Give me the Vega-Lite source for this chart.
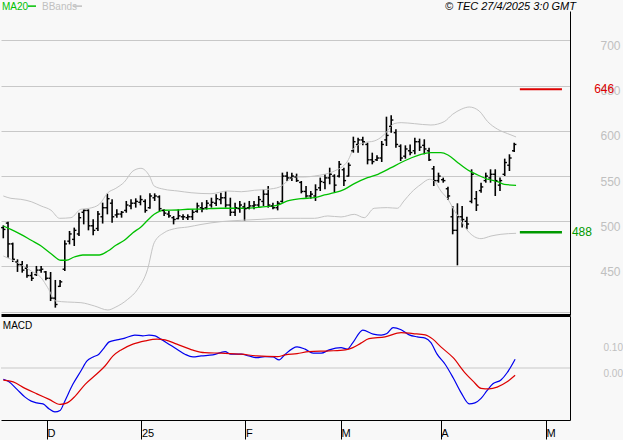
{
  "$schema": "https://vega.github.io/schema/vega-lite/v6.json",
  "background": "#f8f8f8",
  "padding": 0,
  "spacing": 1,
  "bounds": "flush",
  "config": {"view": {"stroke": null}, "font": "Liberation Sans"},
  "datasets": {
    "one": [{}],
    "bars": [
      {"i":0,"o":493,"h":495.5,"l":481.2,"c":491},{"i":1,"o":498,"h":499.6,"l":459.8,"c":475},{"i":2,"o":475,"h":476.4,"l":455,"c":458},{"i":3,"o":455,"h":457.9,"l":444,"c":452},{"i":4,"o":452,"h":456.1,"l":443.2,"c":446},{"i":5,"o":448,"h":452.4,"l":437.6,"c":440},{"i":6,"o":440,"h":443.9,"l":434,"c":437},{"i":7,"o":441,"h":450.6,"l":439.5,"c":446},{"i":8,"o":446,"h":450.6,"l":443.2,"c":447},{"i":9,"o":444,"h":445,"l":434.7,"c":437},
      {"i":10,"o":437,"h":443.9,"l":411.8,"c":415},{"i":11,"o":415,"h":435.1,"l":404.5,"c":408},{"i":12,"o":428,"h":435.1,"l":427.3,"c":433},{"i":13,"o":447,"h":479,"l":445,"c":475},{"i":14,"o":478,"h":489.3,"l":474.5,"c":486},{"i":15,"o":480,"h":493,"l":472.7,"c":490},{"i":16,"o":486,"h":509.5,"l":483.7,"c":504},{"i":17,"o":510,"h":513.2,"l":496.6,"c":512},{"i":18,"o":512,"h":513.2,"l":490,"c":495},{"i":19,"o":495,"h":502.2,"l":484.5,"c":490},
      {"i":20,"o":492,"h":511.4,"l":489.3,"c":508},{"i":21,"o":505,"h":520.6,"l":497.5,"c":515},{"i":22,"o":515,"h":530.6,"l":507.7,"c":525},{"i":23,"o":520,"h":524.3,"l":498.5,"c":505},{"i":24,"o":507,"h":513.2,"l":504,"c":508},{"i":25,"o":508,"h":511.4,"l":504,"c":510},{"i":26,"o":512,"h":522.5,"l":509.5,"c":518},{"i":27,"o":517,"h":524.3,"l":513.2,"c":520},{"i":28,"o":520,"h":525.4,"l":515.1,"c":522},{"i":29,"o":521,"h":528.7,"l":517.7,"c":524},
      {"i":30,"o":522,"h":524.3,"l":509.5,"c":512},{"i":31,"o":515,"h":530.9,"l":514,"c":528},{"i":32,"o":526,"h":530.9,"l":522.5,"c":528},{"i":33,"o":527,"h":528.7,"l":511.4,"c":514},{"i":34,"o":512,"h":513.2,"l":505.9,"c":509},{"i":35,"o":508,"h":511.4,"l":504,"c":506},{"i":36,"o":504,"h":505.9,"l":496.6,"c":502},{"i":37,"o":503,"h":513.2,"l":502.2,"c":506},{"i":38,"o":505,"h":507.7,"l":501.4,"c":505},{"i":39,"o":504,"h":507.7,"l":501.4,"c":505},
      {"i":40,"o":505,"h":513.2,"l":501.4,"c":510},{"i":41,"o":511,"h":520.6,"l":509.5,"c":517},{"i":42,"o":515,"h":521,"l":510,"c":514},{"i":43,"o":515,"h":523.5,"l":513,"c":520},{"i":44,"o":518,"h":526.1,"l":515.1,"c":521},{"i":45,"o":520,"h":529.8,"l":516.9,"c":525},{"i":46,"o":524,"h":531.7,"l":518.8,"c":526},{"i":47,"o":526,"h":533.5,"l":515.1,"c":518},{"i":48,"o":518,"h":526.1,"l":505.9,"c":510},{"i":49,"o":510,"h":520.6,"l":505.9,"c":515},
      {"i":50,"o":514,"h":522.5,"l":509.5,"c":518},{"i":51,"o":516,"h":520.6,"l":500.3,"c":514},{"i":52,"o":515,"h":522.5,"l":513.2,"c":517},{"i":53,"o":517,"h":522.5,"l":513.2,"c":518},{"i":54,"o":518,"h":528,"l":515.1,"c":524},{"i":55,"o":522,"h":535.4,"l":516.9,"c":530},{"i":56,"o":530,"h":539,"l":515.1,"c":518},{"i":57,"o":517,"h":520.6,"l":513.2,"c":515},{"i":58,"o":515,"h":522.5,"l":512.1,"c":520},{"i":59,"o":522,"h":553.8,"l":520.6,"c":550},
      {"i":60,"o":550,"h":554.9,"l":544.6,"c":548},{"i":61,"o":548,"h":553.8,"l":544.6,"c":550},{"i":62,"o":549,"h":552.7,"l":543.5,"c":545},{"i":63,"o":543,"h":544.6,"l":530.9,"c":533},{"i":64,"o":533,"h":539,"l":526.1,"c":528},{"i":65,"o":528,"h":533.5,"l":525,"c":530},{"i":66,"o":528,"h":540.9,"l":522.5,"c":535},{"i":67,"o":537,"h":548.3,"l":533.5,"c":544},{"i":68,"o":543,"h":552,"l":535.4,"c":548},{"i":69,"o":548,"h":559.3,"l":540.9,"c":552},
      {"i":70,"o":550,"h":552,"l":532.4,"c":540},{"i":71,"o":550,"h":566.7,"l":548.3,"c":563},{"i":72,"o":557,"h":559.3,"l":539,"c":545},{"i":73,"o":550,"h":564.9,"l":549.4,"c":562},{"i":74,"o":578,"h":593.6,"l":575.9,"c":588},{"i":75,"o":585,"h":592.5,"l":575.9,"c":590},{"i":76,"o":590,"h":593.6,"l":584,"c":588},{"i":77,"o":585,"h":587,"l":563,"c":568},{"i":78,"o":568,"h":575.9,"l":563,"c":566},{"i":79,"o":568,"h":573,"l":566.7,"c":570},
      {"i":80,"o":570,"h":588.8,"l":565.6,"c":585},{"i":81,"o":590,"h":615.7,"l":583.3,"c":595},{"i":82,"o":605,"h":617.2,"l":598,"c":612},{"i":83,"o":598,"h":601.7,"l":581.4,"c":585},{"i":84,"o":583,"h":585.1,"l":566.7,"c":570},{"i":85,"o":572,"h":584,"l":569.3,"c":580},{"i":86,"o":578,"h":585,"l":573,"c":576},{"i":87,"o":578,"h":592.5,"l":574.1,"c":588},{"i":88,"o":588,"h":591.4,"l":577.8,"c":582},{"i":89,"o":584,"h":590.7,"l":574.1,"c":580},
      {"i":90,"o":578,"h":581.4,"l":566.7,"c":568},{"i":91,"o":558,"h":561.2,"l":539,"c":545},{"i":92,"o":545,"h":553.8,"l":542.7,"c":550},{"i":93,"o":546,"h":548.3,"l":542.7,"c":545},{"i":94,"o":536,"h":538.3,"l":523.6,"c":528},{"i":95,"o":505,"h":516.9,"l":485.6,"c":490},{"i":96,"o":490,"h":519.9,"l":451.3,"c":505},{"i":97,"o":505,"h":516.9,"l":493,"c":502},{"i":98,"o":500,"h":505.1,"l":491.1,"c":497},{"i":99,"o":522,"h":557.5,"l":519.9,"c":552},
      {"i":100,"o":525,"h":533.5,"l":511.4,"c":518},{"i":101,"o":534,"h":542.7,"l":531.7,"c":538},{"i":102,"o":545,"h":553.8,"l":542.7,"c":550},{"i":103,"o":548,"h":557.5,"l":542.7,"c":552},{"i":104,"o":552,"h":557.5,"l":528,"c":545},{"i":105,"o":540,"h":548.3,"l":533.5,"c":545},{"i":106,"o":552,"h":569.3,"l":550.1,"c":565},{"i":107,"o":562,"h":574.1,"l":555.6,"c":570},{"i":108,"o":578,"h":587,"l":576.7,"c":585}
    ],
    "ma": [
      {"i":0,"v":494.8},{"i":1.6,"v":491.1},{"i":3.7,"v":485.6},{"i":5.9,"v":479},{"i":8,"v":472.7},{"i":10.1,"v":464.2},{"i":12.2,"v":456.9},{"i":13.3,"v":456.9},{"i":15,"v":460.5},{"i":16.8,"v":462.7},{"i":20.3,"v":462.7},{"i":22.1,"v":467.1},{"i":23.8,"v":473.5},{"i":25.6,"v":479},{"i":27.4,"v":487.4},{"i":29.1,"v":493.7},{"i":30.5,"v":501.1},{"i":31.9,"v":507.7},{"i":34,"v":512.2},{"i":36.9,"v":512.5},{"i":39,"v":513.3},{"i":41.8,"v":513.5},{"i":46,"v":514.4},{"i":51,"v":514.4},{"i":54.5,"v":515.8},{"i":58,"v":518},{"i":60.1,"v":522.5},{"i":62.9,"v":525},{"i":65.8,"v":526.1},{"i":67.9,"v":529.1},{"i":70,"v":531.6},{"i":72.1,"v":535.4},{"i":74.2,"v":541.6},{"i":77,"v":548.2},{"i":79.2,"v":552},{"i":82,"v":559.3},{"i":84.1,"v":565},{"i":86.2,"v":570},{"i":88.3,"v":574.1},{"i":90.4,"v":575.9},{"i":92.5,"v":575.9},{"i":94,"v":573.3},{"i":96.1,"v":564.8},{"i":98.2,"v":556.7},{"i":100.3,"v":551.2},{"i":102.4,"v":546.5},{"i":104.5,"v":543.8},{"i":105.9,"v":540.9},{"i":108.4,"v":539.8}
    ],
    "bb": [
      {"b":"u","i":0,"v":528},{"b":"u","i":1.6,"v":525.4},{"b":"u","i":3.7,"v":524.3},{"b":"u","i":5.9,"v":521.7},{"b":"u","i":8,"v":516.9},{"b":"u","i":10.1,"v":512.2},{"b":"u","i":11.9,"v":503.3},{"b":"u","i":14.3,"v":504},{"b":"u","i":16.4,"v":513.3},{"b":"u","i":18.2,"v":514.4},{"b":"u","i":20.3,"v":518.8},{"b":"u","i":22.1,"v":531.6},{"b":"u","i":23.8,"v":536.5},{"b":"u","i":25.6,"v":543.5},{"b":"u","i":27.4,"v":555.6},{"b":"u","i":29.1,"v":558.6},{"b":"u","i":30.9,"v":550.1},{"b":"u","i":31.9,"v":539},{"b":"u","i":34,"v":535.4},{"b":"u","i":36.9,"v":533.5},{"b":"u","i":39.7,"v":531.6},{"b":"u","i":43.9,"v":530.5},{"b":"u","i":47.4,"v":533.5},{"b":"u","i":50.3,"v":532.7},{"b":"u","i":53.1,"v":534.3},{"b":"u","i":55.9,"v":535.4},{"b":"u","i":58.4,"v":537.9},{"b":"u","i":60.1,"v":544.6},{"b":"u","i":61.5,"v":549},{"b":"u","i":63.7,"v":549},{"b":"u","i":65.8,"v":550.1},{"b":"u","i":67.9,"v":552},{"b":"u","i":70,"v":555.6},{"b":"u","i":72.8,"v":566.7},{"b":"u","i":74.2,"v":581.4},{"b":"u","i":76.3,"v":587},{"b":"u","i":78.4,"v":588.8},{"b":"u","i":80.2,"v":594.4},{"b":"u","i":81.2,"v":599.9},{"b":"u","i":82.6,"v":608},{"b":"u","i":84.1,"v":609.1},{"b":"u","i":86.9,"v":608},{"b":"u","i":90.4,"v":606.5},{"b":"u","i":93.2,"v":610.2},{"b":"u","i":95,"v":618.4},{"b":"u","i":96.8,"v":623.9},{"b":"u","i":98.5,"v":626.4},{"b":"u","i":100.6,"v":622},{"b":"u","i":102.4,"v":610.2},{"b":"u","i":104.5,"v":601.8},{"b":"u","i":106.6,"v":597},{"b":"u","i":108.4,"v":593.3},
      {"b":"l","i":0,"v":461.6},{"b":"l","i":1.6,"v":458},{"b":"l","i":3.7,"v":452.4},{"b":"l","i":5.9,"v":445},{"b":"l","i":8,"v":437.6},{"b":"l","i":9.4,"v":426.5},{"b":"l","i":11.1,"v":411.8},{"b":"l","i":13.6,"v":410.7},{"b":"l","i":16.4,"v":410},{"b":"l","i":19.3,"v":406.3},{"b":"l","i":22.1,"v":401.9},{"b":"l","i":23.8,"v":405.2},{"b":"l","i":26.3,"v":413.7},{"b":"l","i":28.4,"v":424.8},{"b":"l","i":30.5,"v":446.9},{"b":"l","i":31.9,"v":476.3},{"b":"l","i":34,"v":487.4},{"b":"l","i":36.2,"v":491.8},{"b":"l","i":39,"v":493.7},{"b":"l","i":41.8,"v":496.5},{"b":"l","i":46,"v":499.6},{"b":"l","i":50.3,"v":501.1},{"b":"l","i":54.5,"v":502.2},{"b":"l","i":58.7,"v":503.3},{"b":"l","i":62.9,"v":503.3},{"b":"l","i":65.8,"v":503.3},{"b":"l","i":68.6,"v":505.9},{"b":"l","i":71.4,"v":504.8},{"b":"l","i":74.2,"v":507.7},{"b":"l","i":76.3,"v":504},{"b":"l","i":78.4,"v":514.4},{"b":"l","i":81.2,"v":515.1},{"b":"l","i":83.3,"v":514.4},{"b":"l","i":84.7,"v":522.5},{"b":"l","i":86.2,"v":531.6},{"b":"l","i":88.3,"v":540.9},{"b":"l","i":90.1,"v":546.5},{"b":"l","i":91.1,"v":544.6},{"b":"l","i":92.5,"v":533.5},{"b":"l","i":94,"v":524.3},{"b":"l","i":95.4,"v":511.4},{"b":"l","i":96.8,"v":500.3},{"b":"l","i":98.2,"v":489.3},{"b":"l","i":101,"v":480.8},{"b":"l","i":103.1,"v":483.7},{"b":"l","i":105.2,"v":485.6},{"b":"l","i":108.4,"v":486.7}
    ],
    "levels": [
      {"v":646,"t":"646","k":"r"},{"v":488,"t":"488","k":"s"}
    ],
    "macd": [
      {"s":"m","i":0,"v":-0.045},{"s":"m","i":1.2,"v":-0.055},{"s":"m","i":2.9,"v":-0.085},{"s":"m","i":4.6,"v":-0.116},{"s":"m","i":5.9,"v":-0.132},{"s":"m","i":7.1,"v":-0.139},{"s":"m","i":8.4,"v":-0.143},{"s":"m","i":9.7,"v":-0.163},{"s":"m","i":10.9,"v":-0.175},{"s":"m","i":12,"v":-0.169},{"s":"m","i":13,"v":-0.132},{"s":"m","i":14.7,"v":-0.065},{"s":"m","i":16.4,"v":-0.012},{"s":"m","i":17.7,"v":0.028},{"s":"m","i":19,"v":0.044},{"s":"m","i":20.2,"v":0.055},{"s":"m","i":21.1,"v":0.075},{"s":"m","i":22.4,"v":0.104},{"s":"m","i":24,"v":0.112},{"s":"m","i":25.7,"v":0.119},{"s":"m","i":27.8,"v":0.131},{"s":"m","i":29.5,"v":0.128},{"s":"m","i":30.8,"v":0.131},{"s":"m","i":32.1,"v":0.128},{"s":"m","i":33.3,"v":0.115},{"s":"m","i":35,"v":0.095},{"s":"m","i":36.7,"v":0.075},{"s":"m","i":38.4,"v":0.055},{"s":"m","i":40.1,"v":0.044},{"s":"m","i":41.8,"v":0.048},{"s":"m","i":44.3,"v":0.052},{"s":"m","i":46.9,"v":0.065},{"s":"m","i":48.1,"v":0.055},{"s":"m","i":50.3,"v":0.055},{"s":"m","i":51.9,"v":0.048},{"s":"m","i":53.6,"v":0.041},{"s":"m","i":55.3,"v":0.045},{"s":"m","i":57,"v":0.044},{"s":"m","i":58.3,"v":0.032},{"s":"m","i":59.6,"v":0.055},{"s":"m","i":62.1,"v":0.084},{"s":"m","i":63.8,"v":0.075},{"s":"m","i":65.5,"v":0.059},{"s":"m","i":67.2,"v":0.059},{"s":"m","i":68.9,"v":0.072},{"s":"m","i":71.4,"v":0.081},{"s":"m","i":72.7,"v":0.075},{"s":"m","i":73.9,"v":0.101},{"s":"m","i":76,"v":0.151},{"s":"m","i":78.2,"v":0.135},{"s":"m","i":79.9,"v":0.131},{"s":"m","i":81.1,"v":0.137},{"s":"m","i":82.4,"v":0.161},{"s":"m","i":84.1,"v":0.152},{"s":"m","i":85.8,"v":0.132},{"s":"m","i":87.5,"v":0.124},{"s":"m","i":89.2,"v":0.119},{"s":"m","i":90.4,"v":0.101},{"s":"m","i":91.7,"v":0.055},{"s":"m","i":93.4,"v":0.015},{"s":"m","i":95.1,"v":-0.039},{"s":"m","i":96.8,"v":-0.099},{"s":"m","i":98.5,"v":-0.143},{"s":"m","i":99.7,"v":-0.139},{"s":"m","i":101,"v":-0.121},{"s":"m","i":102.3,"v":-0.089},{"s":"m","i":103.5,"v":-0.063},{"s":"m","i":105.2,"v":-0.048},{"s":"m","i":106.5,"v":-0.019},{"s":"m","i":108.2,"v":0.035},
      {"s":"s","i":0,"v":-0.048},{"s":"s","i":2.1,"v":-0.055},{"s":"s","i":4.6,"v":-0.081},{"s":"s","i":7.1,"v":-0.103},{"s":"s","i":9.7,"v":-0.125},{"s":"s","i":12,"v":-0.145},{"s":"s","i":13.5,"v":-0.139},{"s":"s","i":15.2,"v":-0.112},{"s":"s","i":17.3,"v":-0.065},{"s":"s","i":19.8,"v":-0.023},{"s":"s","i":21.5,"v":0.008},{"s":"s","i":23.2,"v":0.048},{"s":"s","i":24.9,"v":0.072},{"s":"s","i":27.4,"v":0.095},{"s":"s","i":30,"v":0.108},{"s":"s","i":32.5,"v":0.115},{"s":"s","i":34.2,"v":0.112},{"s":"s","i":36.7,"v":0.095},{"s":"s","i":40.1,"v":0.071},{"s":"s","i":42.6,"v":0.061},{"s":"s","i":46,"v":0.059},{"s":"s","i":50.3,"v":0.055},{"s":"s","i":53.6,"v":0.048},{"s":"s","i":57.9,"v":0.045},{"s":"s","i":59.6,"v":0.052},{"s":"s","i":62.1,"v":0.057},{"s":"s","i":64.6,"v":0.065},{"s":"s","i":68.9,"v":0.068},{"s":"s","i":72.3,"v":0.072},{"s":"s","i":73.9,"v":0.081},{"s":"s","i":75.6,"v":0.099},{"s":"s","i":77.3,"v":0.117},{"s":"s","i":80.7,"v":0.124},{"s":"s","i":84.1,"v":0.141},{"s":"s","i":86.6,"v":0.137},{"s":"s","i":89.2,"v":0.132},{"s":"s","i":90.8,"v":0.115},{"s":"s","i":92.5,"v":0.084},{"s":"s","i":95.1,"v":0.041},{"s":"s","i":97.6,"v":-0.019},{"s":"s","i":99.3,"v":-0.052},{"s":"s","i":101,"v":-0.081},{"s":"s","i":102.7,"v":-0.083},{"s":"s","i":104.4,"v":-0.076},{"s":"s","i":106.5,"v":-0.055},{"s":"s","i":108.2,"v":-0.029}
    ]
  },
  "vconcat": [
    {
      "width": 569,
      "height": 304,
      "resolve": {"axis": {"x": "independent", "y": "independent"}},
      "layer": [
        {
          "data": {"name": "bars"},
          "mark": {"type": "rule", "color": "#000000", "strokeWidth": 1.6},
          "encoding": {
            "x": {"field": "i", "type": "quantitative", "scale": {"domain": [-0.486, 119.8], "nice": false, "zero": false},
              "axis": {"orient": "bottom", "title": null, "domain": true, "domainColor": "#000000", "domainWidth": 3, "ticks": false, "labels": false, "grid": false}},
            "y": {"field": "l", "type": "quantitative", "scale": {"domain": [396.35, 732.6], "nice": false, "zero": false},
              "axis": {"orient": "right", "title": null, "values": [400, 450, 500, 550, 600, 650, 700], "labelExpr": "datum.value == 400 ? '' : datum.label", "grid": true, "gridColor": "#c8c8c8", "gridWidth": 1, "ticks": false, "domain": true, "domainColor": "#000000", "domainWidth": 1, "labelColor": "#c0c0c0", "labelFontSize": 12, "labelFont": "Liberation Sans", "labelPadding": 30, "labelAlign": "left", "labelBaseline": "top", "labelDy": -2}},
            "y2": {"field": "h"}
          }
        },
        {
          "data": {"name": "bb"},
          "mark": {"type": "line", "color": "#c4c4c4", "strokeWidth": 1, "interpolate": "monotone"},
          "encoding": {
            "x": {"field": "i", "type": "quantitative", "scale": {"domain": [-0.486, 119.8], "nice": false, "zero": false}, "axis": null},
            "y": {"field": "v", "type": "quantitative", "scale": {"domain": [396.35, 732.6], "nice": false, "zero": false}, "axis": null},
            "detail": {"field": "b", "type": "nominal"}
          }
        },
        {
          "data": {"name": "ma"},
          "mark": {"type": "line", "color": "#00c000", "strokeWidth": 1.3, "interpolate": "monotone"},
          "encoding": {
            "x": {"field": "i", "type": "quantitative", "scale": {"domain": [-0.486, 119.8], "nice": false, "zero": false}, "axis": null},
            "y": {"field": "v", "type": "quantitative", "scale": {"domain": [396.35, 732.6], "nice": false, "zero": false}, "axis": null}
          }
        },
        {
          "data": {"name": "bars"},
          "mark": {"type": "rule", "color": "#000000", "strokeWidth": 1.4, "xOffset": -2.2},
          "encoding": {
            "x": {"field": "i", "type": "quantitative", "scale": {"domain": [-0.486, 119.8], "nice": false, "zero": false}, "axis": null},
            "x2": {"field": "i"},
            "y": {"field": "o", "type": "quantitative", "scale": {"domain": [396.35, 732.6], "nice": false, "zero": false}, "axis": null}
          }
        },
        {
          "data": {"name": "bars"},
          "mark": {"type": "rule", "color": "#000000", "strokeWidth": 1.4, "x2Offset": 2.2},
          "encoding": {
            "x": {"field": "i", "type": "quantitative", "scale": {"domain": [-0.486, 119.8], "nice": false, "zero": false}, "axis": null},
            "x2": {"field": "i"},
            "y": {"field": "c", "type": "quantitative", "scale": {"domain": [396.35, 732.6], "nice": false, "zero": false}, "axis": null}
          }
        },
        {
          "data": {"name": "levels"},
          "transform": [{"filter": "datum.k == 'r'"}],
          "mark": {"type": "rule", "strokeWidth": 2, "color": "#dd0000"},
          "encoding": {
            "x": {"datum": 109.2, "type": "quantitative", "scale": {"domain": [-0.486, 119.8], "nice": false, "zero": false}, "axis": null},
            "x2": {"datum": 118.1},
            "y": {"field": "v", "type": "quantitative", "scale": {"domain": [396.35, 732.6], "nice": false, "zero": false}, "axis": null}
          }
        },
        {
          "data": {"name": "levels"},
          "transform": [{"filter": "datum.k == 's'"}],
          "mark": {"type": "rule", "strokeWidth": 2.5, "color": "#009900"},
          "encoding": {
            "x": {"datum": 109.2, "type": "quantitative", "scale": {"domain": [-0.486, 119.8], "nice": false, "zero": false}, "axis": null},
            "x2": {"datum": 118.1},
            "y": {"field": "v", "type": "quantitative", "scale": {"domain": [396.35, 732.6], "nice": false, "zero": false}, "axis": null}
          }
        },
        {
          "data": {"name": "levels"},
          "transform": [{"filter": "datum.k == 'r'"}],
          "mark": {"type": "text", "color": "#dd0000", "fontSize": 12, "align": "left", "baseline": "middle"},
          "encoding": {
            "x": {"datum": 124.9, "type": "quantitative", "scale": {"domain": [-0.486, 119.8], "nice": false, "zero": false}, "axis": null},
            "y": {"field": "v", "type": "quantitative", "scale": {"domain": [396.35, 732.6], "nice": false, "zero": false}, "axis": null},
            "text": {"field": "t"}
          }
        },
        {
          "data": {"name": "levels"},
          "transform": [{"filter": "datum.k == 's'"}],
          "mark": {"type": "text", "color": "#009900", "fontSize": 12, "align": "left", "baseline": "middle"},
          "encoding": {
            "x": {"datum": 120.2, "type": "quantitative", "scale": {"domain": [-0.486, 119.8], "nice": false, "zero": false}, "axis": null},
            "y": {"field": "v", "type": "quantitative", "scale": {"domain": [396.35, 732.6], "nice": false, "zero": false}, "axis": null},
            "text": {"field": "t"}
          }
        },
        {
          "data": {"name": "one"},
          "mark": {"type": "text", "text": "MA20", "color": "#00c000", "fontSize": 10, "align": "left", "baseline": "middle"},
          "encoding": {
            "x": {"datum": -0.27, "type": "quantitative", "scale": {"domain": [-0.486, 119.8], "nice": false, "zero": false}, "axis": null},
            "y": {"datum": 737.5, "type": "quantitative", "scale": {"domain": [396.35, 732.6], "nice": false, "zero": false}, "axis": null}
          }
        },
        {
          "data": {"name": "one"},
          "mark": {"type": "rule", "color": "#00c000", "strokeWidth": 1.5},
          "encoding": {
            "x": {"datum": 5.22, "type": "quantitative", "scale": {"domain": [-0.486, 119.8], "nice": false, "zero": false}, "axis": null},
            "x2": {"datum": 6.91},
            "y": {"datum": 738, "type": "quantitative", "scale": {"domain": [396.35, 732.6], "nice": false, "zero": false}, "axis": null}
          }
        },
        {
          "data": {"name": "one"},
          "mark": {"type": "text", "text": "BBands", "color": "#c0c0c0", "fontSize": 10, "align": "left", "baseline": "middle"},
          "encoding": {
            "x": {"datum": 8.18, "type": "quantitative", "scale": {"domain": [-0.486, 119.8], "nice": false, "zero": false}, "axis": null},
            "y": {"datum": 737.5, "type": "quantitative", "scale": {"domain": [396.35, 732.6], "nice": false, "zero": false}, "axis": null}
          }
        },
        {
          "data": {"name": "one"},
          "mark": {"type": "rule", "color": "#c0c0c0", "strokeWidth": 1.5},
          "encoding": {
            "x": {"datum": 14.73, "type": "quantitative", "scale": {"domain": [-0.486, 119.8], "nice": false, "zero": false}, "axis": null},
            "x2": {"datum": 16.64},
            "y": {"datum": 738, "type": "quantitative", "scale": {"domain": [396.35, 732.6], "nice": false, "zero": false}, "axis": null}
          }
        },
        {
          "data": {"name": "one"},
          "mark": {"type": "text", "text": "© TEC 27/4/2025 3:0 GMT", "color": "#000000", "fontSize": 11, "fontStyle": "italic", "align": "right", "baseline": "middle"},
          "encoding": {
            "x": {"datum": 121.07, "type": "quantitative", "scale": {"domain": [-0.486, 119.8], "nice": false, "zero": false}, "axis": null},
            "y": {"datum": 737.5, "type": "quantitative", "scale": {"domain": [396.35, 732.6], "nice": false, "zero": false}, "axis": null}
          }
        }
      ]
    },
    {
      "width": 569,
      "height": 104,
      "resolve": {"axis": {"x": "independent", "y": "independent"}},
      "layer": [
        {
          "data": {"name": "one"},
          "mark": {"type": "rule", "color": "#c8c8c8", "strokeWidth": 1},
          "encoding": {
            "y": {"datum": 0, "type": "quantitative", "scale": {"domain": [-0.207, 0.207], "nice": false, "zero": false},
              "axis": {"orient": "right", "title": null, "values": [0, 0.1], "format": ".2f", "grid": false, "ticks": false, "domain": true, "domainColor": "#000000", "domainWidth": 1, "labelColor": "#c0c0c0", "labelFontSize": 10, "labelFont": "Liberation Sans", "labelPadding": 33, "labelAlign": "left", "labelBaseline": "top", "labelDy": 0}}
          }
        },
        {
          "data": {"name": "macd"},
          "mark": {"type": "line", "strokeWidth": 1.2, "interpolate": "monotone"},
          "encoding": {
            "x": {"field": "i", "type": "quantitative", "scale": {"domain": [-0.486, 119.8], "nice": false, "zero": false},
              "axis": {"orient": "bottom", "title": null, "values": [9.24, 29.2, 51.2, 71.4, 92.5, 114.7], "labelExpr": "datum.value < 20 ? 'D' : datum.value < 40 ? '25' : datum.value < 60 ? 'F' : datum.value < 80 ? 'M' : datum.value < 100 ? 'A' : 'M'", "domain": true, "domainColor": "#000000", "domainWidth": 1, "ticks": true, "tickColor": "#000000", "tickSize": 19, "tickWidth": 1, "labelAlign": "left", "labelBaseline": "top", "labelDx": 2, "labelPadding": -12, "labelColor": "#000000", "labelFontSize": 11, "labelFont": "Liberation Sans", "labelFlush": false, "labelOverlap": false, "grid": false}},
            "y": {"field": "v", "type": "quantitative", "scale": {"domain": [-0.207, 0.207], "nice": false, "zero": false}, "axis": null},
            "color": {"field": "s", "type": "nominal", "scale": {"domain": ["m", "s"], "range": ["#0000ee", "#dd0000"]}, "legend": null}
          }
        },
        {
          "data": {"name": "one"},
          "mark": {"type": "text", "text": "MACD", "color": "#000000", "fontSize": 10, "align": "left", "baseline": "middle"},
          "encoding": {
            "x": {"datum": -0.1, "type": "quantitative", "scale": {"domain": [-0.486, 119.8], "nice": false, "zero": false}, "axis": null},
            "y": {"datum": 0.167, "type": "quantitative", "scale": {"domain": [-0.207, 0.207], "nice": false, "zero": false}, "axis": null}
          }
        }
      ]
    }
  ]
}
